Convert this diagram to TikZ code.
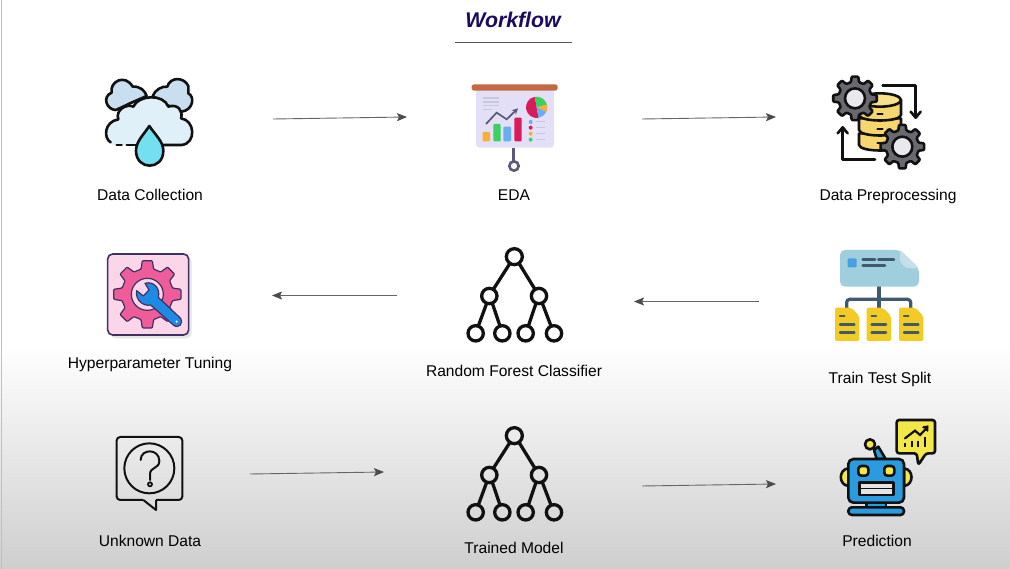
\documentclass[tikz,border=0pt]{standalone}
\usepackage{fontspec}
\setmainfont{Liberation Sans}
\usetikzlibrary{arrows.meta}
\definecolor{inkdark}{HTML}{111111}
\definecolor{titleblue}{HTML}{1A0A60}
\definecolor{rulegray}{HTML}{555555}
\definecolor{arrowgray}{HTML}{666666}
\definecolor{cloudback}{HTML}{C9DFF0}
\definecolor{cloudfront}{HTML}{E0F0F8}
\definecolor{dropblue}{HTML}{74DFF0}
\definecolor{boardfill}{HTML}{E2DFF7}
\definecolor{boardbar}{HTML}{C46A42}
\definecolor{poleink}{HTML}{5A5A78}
\definecolor{barorange}{HTML}{F7B034}
\definecolor{bargreen}{HTML}{3FCF60}
\definecolor{barblue}{HTML}{68AEF5}
\definecolor{barred}{HTML}{D81B5A}
\definecolor{boardtext}{HTML}{C8C8DC}
\definecolor{gearink}{HTML}{6B6970}
\definecolor{gearhole}{HTML}{E8E8EE}
\definecolor{dbyellow}{HTML}{F5D76E}
\definecolor{dbtop}{HTML}{F9E08A}
\definecolor{pinkbg}{HTML}{FBD6E8}
\definecolor{pinkgear}{HTML}{EE5C9A}
\definecolor{purpink}{HTML}{3E3060}
\definecolor{wrenchblue}{HTML}{1E8AE6}
\definecolor{docblue}{HTML}{9FCFDC}
\definecolor{docfold}{HTML}{C5DFE8}
\definecolor{docsq}{HTML}{4A9FE0}
\definecolor{docink}{HTML}{3F5A70}
\definecolor{docyellow}{HTML}{F2CB25}
\definecolor{botyellow}{HTML}{F2E84A}
\definecolor{botblue}{HTML}{2A9BDF}
\definecolor{botgray}{HTML}{E4E4E4}
\tikzset{
  lab/.style={font=\fontsize{15.6}{18}\selectfont,text=black,inner sep=0pt,anchor=base},
  flow/.style={draw=arrowgray,line width=0.9pt,-{Stealth[length=10pt,width=8pt,inset=2pt,color=black!70]}},
  thick ink/.style={draw=inkdark,line width=2.6pt,line join=round,line cap=round},
  tree edge/.style={draw=inkdark,line width=3.3pt,line cap=round},
  tree node/.style={draw=inkdark,line width=3.3pt,fill=none},
}
% cx cy outer root teeth rot style  (rootwidth=0.3 period, tipwidth=0.2 period)
\newcommand{\gearicon}[7]{%
  \pgfmathtruncatemacro{\gearlast}{4*#5-1}%
  \pgfmathtruncatemacro{\gearn}{4*#5}%
  \pgfmathsetmacro{\gearp}{360/#5}%
  \pgfmathsetmacro{\gearrw}{0.31*\gearp}%
  \pgfmathsetmacro{\geartw}{0.19*\gearp}%
  \draw[#7,rounded corners=0.9pt] plot[variable=\k,domain=0:\gearlast,samples=\gearn]
    ({#1+ifthenelse(mod(round(\k),4)==1||mod(round(\k),4)==2,#3,#4)*cos(floor((\k+0.1)/4)*\gearp+#6+ifthenelse(mod(round(\k),4)==0,-\gearrw,ifthenelse(mod(round(\k),4)==1,-\geartw,ifthenelse(mod(round(\k),4)==2,\geartw,\gearrw))))},
     {#2+ifthenelse(mod(round(\k),4)==1||mod(round(\k),4)==2,#3,#4)*sin(floor((\k+0.1)/4)*\gearp+#6+ifthenelse(mod(round(\k),4)==0,-\gearrw,ifthenelse(mod(round(\k),4)==1,-\geartw,ifthenelse(mod(round(\k),4)==2,\geartw,\gearrw))))}) -- cycle;
}
\newcommand{\treeicon}[2]{%
  \begin{scope}[shift={(#1,#2)},scale=1/3]
    \draw[tree edge] (165,70) -- (115,148);
    \draw[tree edge] (192,70) -- (240,148);
    \draw[tree edge] (95,190) -- (70,258);
    \draw[tree edge] (112,190) -- (135,258);
    \draw[tree edge] (243,190) -- (220,258);
    \draw[tree edge] (262,190) -- (288,258);
    \draw[tree node] (178,50) circle (24);
    \draw[tree node] (103,168) circle (23);
    \draw[tree node] (252,168) circle (23);
    \draw[tree node] (62,280) circle (23);
    \draw[tree node] (142,280) circle (23);
    \draw[tree node] (212,280) circle (23);
    \draw[tree node] (297,280) circle (23);
  \end{scope}
}
\begin{document}
\begin{tikzpicture}[x=1pt,y=-1pt]
\useasboundingbox (0,0) rectangle (1010,569);
\fill[white] (0,0) rectangle (1010,569);
\shade[top color=white,bottom color=black!19] (0,345) rectangle (1010,569);
\draw[black!25,line width=1pt] (1,0) -- (1,569);

% title
\node[font=\fontsize{21.3}{24}\selectfont\bfseries\itshape,text=titleblue,inner sep=0pt] (title) at (513,20) {Workflow};
\coordinate (ruleL) at (455,42.5);
\coordinate (ruleR) at (572,42.5);
\draw[rulegray,line width=1pt] (ruleL) -- (ruleR);

% labels
\node[lab] (lcollect) at (150,201) {Data Collection};
\node[lab] (leda) at (514,201) {EDA};
\node[lab] (lprep) at (888,201) {Data Preprocessing};
\node[lab] (lhyper) at (150,369) {Hyperparameter Tuning};
\node[lab] (lforest) at (514,377) {Random Forest Classifier};
\node[lab] (lsplit) at (880,384) {Train Test Split};
\node[lab] (lunknown) at (150,546) {Unknown Data};
\node[lab] (ltrained) at (514,553) {Trained Model};
\node[lab] (lpred) at (877,546) {Prediction};

% arrows
\coordinate (a1s) at (273,119); \coordinate (a1e) at (407,117);
\coordinate (a2s) at (642,119); \coordinate (a2e) at (776,117);
\coordinate (a3s) at (397,295.5); \coordinate (a3e) at (272,295.5);
\coordinate (a4s) at (759,301.5); \coordinate (a4e) at (634,301.5);
\coordinate (a5s) at (250,474); \coordinate (a5e) at (384,472);
\coordinate (a6s) at (642,486); \coordinate (a6e) at (776,484);
\draw[flow] (a1s) -- (a1e);
\draw[flow] (a2s) -- (a2e);
\draw[flow] (a3s) -- (a3e);
\draw[flow] (a4s) -- (a4e);
\draw[flow] (a5s) -- (a5e);
\draw[flow] (a6s) -- (a6e);

% cloud icon
\begin{scope}[shift={(80,60)},scale=1/3]
  \draw[thick ink,fill=cloudback] (108,150) .. controls (80,150) and (65,110) .. (95,98) .. controls (88,65) and (135,40) .. (158,80) .. controls (180,78) and (195,92) .. (200,108) -- (150,130) -- cycle;
  \draw[thick ink,fill=cloudback] (218,108) .. controls (225,90) and (245,78) .. (262,80) .. controls (270,50) and (312,50) .. (325,78) -- (325,100) .. controls (345,110) and (340,150) .. (305,155) -- (250,130) -- cycle;
  \fill[cloudfront] (100,255) .. controls (75,250) and (70,185) .. (115,178) .. controls (105,150) and (140,130) .. (160,140) .. controls (175,105) and (250,100) .. (265,140) .. controls (295,130) and (310,155) .. (303,175) .. controls (345,180) and (350,250) .. (305,255) -- cycle;
  \draw[thick ink] (92,247) .. controls (70,235) and (72,185) .. (115,178) .. controls (105,150) and (140,130) .. (160,140) .. controls (175,105) and (250,100) .. (265,140) .. controls (295,130) and (310,155) .. (303,175) .. controls (345,180) and (350,250) .. (305,255) -- (250,255);
  \draw[thick ink] (110,255) -- (125,255);
  \draw[thick ink] (140,255) -- (168,255);
  \draw[thick ink,fill=dropblue] (208,198) .. controls (190,225) and (168,245) .. (168,272) .. controls (168,332) and (250,332) .. (250,272) .. controls (250,245) and (226,225) .. (208,198) -- cycle;
\end{scope}

% EDA icon
\begin{scope}[shift={(450,70)},scale=1/3]
  \draw[poleink,line width=2.4pt] (190,233) -- (190,275);
  \draw[poleink,line width=2.6pt] (192,288) circle (14);
  \fill[boardfill,rounded corners=4pt] (78,55) rectangle (312,233);
  \fill[boardbar,rounded corners=2.5pt] (65,43) rectangle (323,62);
  \foreach \yy/\xe in {84/148,96/148,107/148,118/125} \draw[boardtext,line width=1.2pt] (98,\yy) -- (\xe,\yy);
  \fill[barorange,rounded corners=1pt] (98,186) rectangle (120,214);
  \fill[bargreen,rounded corners=1pt] (130,162) rectangle (152,214);
  \fill[barblue,rounded corners=1pt] (160,170) rectangle (183,214);
  \fill[barred,rounded corners=1pt] (193,143) rectangle (215,214);
  \draw[poleink,line width=1.7pt,-{Stealth[length=6pt,width=6pt]}] (108,162) -- (140,128) -- (170,148) -- (204,115);
  \fill[barred] (260,112) -- +(-100:32) arc (-100:-280:32) -- cycle;
  \fill[bargreen] (260,112) -- +(-100:32) arc (-100:-15:32) -- cycle;
  \fill[barorange] (260,112) -- +(-15:32) arc (-15:25:32) -- cycle;
  \fill[barblue] (260,112) -- +(25:32) arc (25:80:32) -- cycle;
  \fill[barblue] (242,156) circle (6);
  \fill[barred] (242,173) circle (6);
  \fill[barorange] (242,191) circle (6);
  \fill[bargreen] (242,209) circle (6);
  \foreach \yy in {156,173,191,209} \draw[boardtext,line width=1pt] (258,\yy) -- (285,\yy);
\end{scope}

% preprocessing icon
\begin{scope}[shift={(820,65)},scale=1/3]
  \draw[thick ink,fill=dbyellow] (117,205) -- (117,240) .. controls (120,262) and (240,262) .. (243,240) -- (243,205) -- cycle;
  \draw[thick ink,fill=dbyellow] (117,160) -- (117,195) .. controls (120,217) and (240,217) .. (243,195) -- (243,160) -- cycle;
  \draw[thick ink,fill=dbyellow] (117,105) -- (117,150) .. controls (120,172) and (240,172) .. (243,150) -- (243,105) -- cycle;
  \draw[thick ink,fill=dbtop] (180,105) ellipse (63 and 20);
  \draw[thick ink,line width=1.8pt] (172,148) -- (188,148);
  \draw[thick ink,line width=1.8pt] (172,193) -- (188,193);
  \draw[thick ink,line width=1.8pt] (172,235) -- (188,235);
  \draw[thick ink] (188,62) -- (287,62) -- (287,155);
  \draw[thick ink] (272,140) -- (287,158) -- (302,140);
  \draw[thick ink] (165,283) -- (68,283) -- (68,190);
  \draw[thick ink] (53,205) -- (68,187) -- (83,205);
  \gearicon{105}{100}{66}{50}{8}{-90}{thick ink,fill=gearink}
  \draw[thick ink,fill=gearhole] (105,100) circle (30);
  \gearicon{247}{245}{66}{50}{8}{-90}{thick ink,fill=gearink}
  \draw[thick ink,fill=gearhole] (247,245) circle (30);
\end{scope}

% hyperparameter icon
\begin{scope}[shift={(90,240)},scale=1/3]
  \fill[black!10,rounded corners=5pt] (62,50) rectangle (305,295);
  \draw[purpink,line width=1.6pt,fill=pinkbg,rounded corners=5pt] (53,42) rectangle (296,285);
  \gearicon{172}{163}{102}{78}{8}{-90}{draw=purpink,line width=1.2pt,fill=pinkgear,line join=round}
  \draw[purpink,line width=1.2pt,fill=pinkbg] (172,163) circle (48);
  \draw[purpink,line width=1.2pt,fill=wrenchblue,line join=round] (140,152) -- (160,168) -- (177,150) -- (165,130) .. controls (190,122) and (212,145) .. (205,172) -- (272,235) .. controls (282,250) and (265,268) .. (250,255) -- (182,195) .. controls (160,200) and (135,180) .. (140,152) -- cycle;
  \fill[white] (260,245) circle (3.5);
\end{scope}

% tree icons
\treeicon{455}{240}
\treeicon{455}{419}

% split icon
\begin{scope}[shift={(820,240)},scale=1/3]
  \draw[docink,line width=3.2pt] (177,135) -- (177,205);
  \draw[docink,line width=3.2pt,rounded corners=3pt] (80,205) -- (80,178) -- (272,178) -- (272,205);
  \fill[docblue,rounded corners=5pt] (60,30) -- (240,30) -- (297,85) -- (297,140) -- (60,140) -- cycle;
  \fill[docfold,rounded corners=2pt] (240,30) -- (297,85) -- (258,85) -- (240,65) -- cycle;
  \fill[docsq,rounded corners=1pt] (83,55) rectangle (110,82);
  \draw[docink,line width=2.5pt,line cap=round] (128,58) -- (165,58);
  \draw[docink,line width=2.5pt,line cap=round] (175,58) -- (222,58);
  \draw[docink,line width=2.5pt,line cap=round] (128,76) -- (195,76);
  \foreach \xs in {45,140,237} {
    \fill[docyellow,rounded corners=2pt] (\xs,203) -- (\xs+48,203) -- (\xs+73,228) -- (\xs+73,303) -- (\xs,303) -- cycle;
    \draw[docink,line width=2.5pt,line cap=round] (\xs+15,228) -- (\xs+28,228);
    \draw[docink,line width=2.5pt,line cap=round] (\xs+15,253) -- (\xs+58,253);
    \draw[docink,line width=2.5pt,line cap=round] (\xs+15,278) -- (\xs+58,278);
  }
\end{scope}

% unknown data icon
\begin{scope}[shift={(100,425)},scale=1/3]
  \draw[draw=inkdark,line width=2pt,line join=round,rounded corners=3.5pt] (130,225) -- (50,225) -- (50,36) -- (247,36) -- (247,225) -- (168,225);
  \draw[draw=inkdark,line width=2pt,line join=round] (130,225) -- (168,255) -- (168,225);
  \draw[draw=inkdark,line width=2pt] (148,130) circle (75);
  \draw[draw=inkdark,line width=2pt,line cap=round] (122,105) .. controls (122,70) and (178,70) .. (178,108) .. controls (178,132) and (150,125) .. (150,148) -- (150,165);
  \draw[draw=inkdark,line width=1.8pt] (150,178) circle (6);
\end{scope}

% prediction icon
\begin{scope}[shift={(820,410)},scale=1/3]
  \draw[thick ink,fill=botyellow,rounded corners=2.5pt] (230,30) -- (345,30) -- (345,130) -- (318,130) -- (295,165) -- (290,130) -- (230,130) -- cycle;
  \draw[inkdark,line width=2.2pt,line cap=round] (255,85) -- (285,62) -- (300,75) -- (322,52);
  \draw[inkdark,line width=2.2pt,line cap=round] (310,52) -- (322,50) -- (322,62);
  \draw[inkdark,line width=2.2pt] (255,100) -- (255,112);
  \draw[inkdark,line width=2.2pt] (275,92) -- (275,112);
  \draw[inkdark,line width=2.2pt] (295,92) -- (295,112);
  \draw[inkdark,line width=2.2pt] (315,80) -- (315,112);
  \draw[thick ink,fill=botyellow] (85,175) .. controls (55,178) and (55,225) .. (85,228) -- cycle;
  \draw[thick ink,fill=botyellow] (252,175) .. controls (282,178) and (282,225) .. (252,228) -- cycle;
  \draw[thick ink,fill=botblue] (162,120) -- (175,110) -- (197,147) -- (170,147) -- cycle;
  \draw[thick ink,fill=botyellow] (150,103) circle (15);
  \draw[thick ink,fill=botblue] (140,275) -- (198,275) -- (198,295) -- (140,295) -- cycle;
  \draw[thick ink,fill=botblue,rounded corners=5pt] (85,147) rectangle (252,278);
  \draw[thick ink,fill=botyellow,rounded corners=3pt] (115,168) rectangle (145,197);
  \draw[thick ink,fill=botyellow,rounded corners=3pt] (193,168) rectangle (223,197);
  \draw[thick ink,fill=botgray] (118,217) rectangle (220,255);
  \draw[inkdark,line width=1.2pt] (118,236) -- (220,236);
  \draw[thick ink,fill=botblue,rounded corners=3.5pt] (85,292) rectangle (252,315);
\end{scope}
\end{tikzpicture}
\end{document}
